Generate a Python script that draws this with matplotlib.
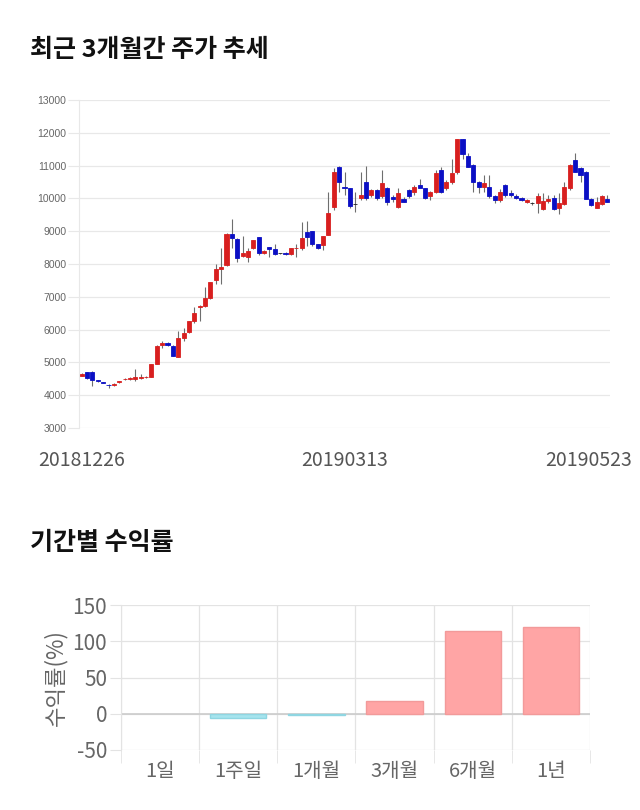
import numpy as np
import matplotlib
matplotlib.use("Agg")
import matplotlib.pyplot as plt
from matplotlib.transforms import ScaledTranslation

plt.rcParams['font.family'] = ['Noto Sans CJK KR', 'DejaVu Sans']
plt.rcParams['axes.unicode_minus'] = False

# daily candles, 20181226 ~ 20190523
opens = [4600, 4700, 4720, 4450, 4390, 4320, 4300, 4400, 4480, 4480,
         4490, 4520, 4540, 4540, 4960, 5520, 5590, 5510, 5160, 5740,
         5920, 6250, 6680, 6730, 6960, 7520, 7850, 7970, 8920, 8760,
         8230, 8210, 8490, 8820, 8330, 8510, 8470, 8330, 8330, 8300,
         8480, 8480, 8980, 9010, 8600, 8580, 8890, 9750, 10970, 10360,
         10310, 9830, 10000, 10510, 10100, 10250, 10060, 10310, 10050, 9750,
         9990, 10250, 10210, 10410, 10310, 10060, 10210, 10860, 10310, 10510,
         10800, 11810, 11300, 11020, 10510, 10360, 10360, 10060, 9950, 10410,
         10160, 10060, 10010, 9880, 9850, 9850, 9680, 9920, 10010, 9720,
         9830, 10310, 11170, 10920, 10820, 9980, 9720, 9820, 9980]
highs = [4680, 4720, 4730, 4470, 4400, 4340, 4360, 4440, 4520, 4540,
         4810, 4650, 4580, 4960, 5520, 5660, 5620, 5520, 5950, 6050,
         6270, 6700, 6750, 7300, 7460, 8000, 8500, 8930, 9380, 8780,
         8850, 8480, 8740, 8830, 8420, 8520, 8600, 8350, 8360, 8500,
         8600, 9290, 9310, 9020, 8620, 8860, 10200, 10920, 11000, 10800,
         10320, 10200, 10800, 10980, 10300, 10300, 10870, 10350, 10100, 10330,
         10050, 10280, 10400, 10600, 10330, 10220, 10880, 10960, 10550, 11200,
         11810, 11810, 11380, 11050, 10520, 10700, 10700, 10100, 10300, 10450,
         10250, 10120, 10050, 9980, 9880, 10150, 10150, 10100, 10100, 10150,
         10500, 11050, 11380, 10950, 10850, 10000, 10050, 10100, 10100]
lows = [4580, 4500, 4270, 4400, 4360, 4220, 4280, 4380, 4460, 4460,
        4440, 4480, 4520, 4540, 4960, 5450, 5500, 5180, 5150, 5640,
        5900, 6200, 6260, 6700, 6940, 7380, 7380, 7950, 8500, 8050,
        8200, 8050, 8450, 8280, 8300, 8200, 8280, 8300, 8280, 8280,
        8200, 8440, 8560, 8560, 8460, 8440, 8880, 9650, 10200, 10100,
        9700, 9600, 9950, 9950, 10050, 9950, 10000, 9800, 9900, 9700,
        9880, 10000, 10100, 10350, 9980, 9940, 10150, 10150, 10250, 10450,
        10750, 11200, 10950, 10200, 10150, 10200, 10000, 9860, 9900, 10050,
        10050, 9980, 9920, 9850, 9800, 9550, 9650, 9850, 9650, 9530,
        9800, 10250, 10800, 10500, 9980, 9780, 9700, 9800, 9900]
closes = [4650, 4530, 4470, 4420, 4370, 4310, 4340, 4420, 4500, 4530,
          4550, 4550, 4560, 4960, 5510, 5590, 5520, 5200, 5740, 5890,
          6250, 6500, 6720, 6960, 7450, 7850, 7920, 8910, 8790, 8180,
          8330, 8410, 8720, 8330, 8410, 8470, 8300, 8330, 8300, 8480,
          8490, 8790, 8810, 8600, 8480, 8840, 9550, 10800, 10510, 10310,
          9770, 9830, 10110, 10000, 10250, 10000, 10460, 9880, 9990, 10160,
          9900, 10060, 10360, 10330, 10000, 10210, 10770, 10210, 10510, 10770,
          11810, 11360, 10970, 10510, 10360, 10460, 10060, 9950, 10210, 10110,
          10110, 10000, 9950, 9950, 9850, 10060, 9920, 9980, 9680, 9850,
          10360, 11020, 10820, 10720, 9980, 9800, 9900, 10060, 9900]
date_labels = ['20181226', '20190313', '20190523']
date_pos = [0, 49, 98]

# returns by period
periods = ['1일', '1주일', '1개월', '3개월', '6개월', '1년']
returns = [0, -5.5, -1.5, 17.5, 113.5, 119]

fig = plt.figure(figsize=(6.4, 8.1), dpi=100)

fig.text(30 / 640, 1 - 50 / 810, '최근 3개월간 주가 추세', fontsize=18, fontweight='bold',
         color='#111111', va='center', ha='left')
fig.text(30 / 640, 1 - 543 / 810, '기간별 수익률', fontsize=18, fontweight='bold',
         color='#111111', va='center', ha='left')

# candle chart
ax = fig.add_axes([79 / 640, 1 - 428 / 810, 531 / 640, 328 / 810])
x = np.arange(len(opens))
o = np.array(opens)
c = np.array(closes)
colors = np.where(c > o, '#d81f1f', np.where(c < o, '#0b0fc4', '#222222'))
ax.vlines(x, lows, highs, color='#6e6e6e', linewidth=0.8, zorder=2)
ax.bar(x, c - o, bottom=o, width=0.75, color=colors, edgecolor=colors,
       linewidth=0.6, zorder=3)

ax.set_xlim(-0.5, len(opens) - 0.5)
ax.set_ylim(3000, 13000)
ax.set_yticks(range(3000, 13001, 1000))
ax.grid(axis='y', color='#e8e8e8', linewidth=0.9)
ax.set_axisbelow(True)
for side in ['top', 'right', 'bottom']:
    ax.spines[side].set_visible(False)
ax.spines['left'].set_color('#e8e8e8')
ax.tick_params(axis='y', length=8, color='#e8e8e8', labelsize=7.5, labelcolor='#666666', pad=1)
for lab in ax.get_yticklabels():
    lab.set_family('Liberation Sans')
ax.set_xticks(date_pos)
ax.set_xticklabels(date_labels)
ax.tick_params(axis='x', length=0, labelsize=14, labelcolor='#555555', pad=16)
last = ax.get_xticklabels()[-1]
last.set_transform(last.get_transform() + ScaledTranslation(-0.19, 0, fig.dpi_scale_trans))

# returns bar chart
ax2 = fig.add_axes([121 / 640, 1 - 750 / 810, 469 / 640, 145 / 810])
r = np.array(returns)
bar_colors = np.where(r >= 0, '#ffa5a5', '#a6e4ee')
edge_colors = np.where(r > 0, '#f29a9a', np.where(r < 0, '#8fd6e2', 'none'))
ax2.bar(np.arange(len(periods)), r, width=0.72, color=bar_colors,
        edgecolor=edge_colors, linewidth=1, zorder=3)
ax2.set_xlim(-0.5, len(periods) - 0.5)
ax2.set_ylim(-50, 150)
ax2.set_yticks([-50, 0, 50, 100, 150])
ax2.set_xticks(np.arange(len(periods)))
ax2.set_xticklabels(periods)
ax2.set_xticks(np.arange(len(periods) + 1) - 0.5, minor=True)
ax2.grid(axis='y', color='#e3e3e3', linewidth=0.9)
ax2.grid(axis='x', which='minor', color='#e3e3e3', linewidth=0.9)
ax2.axhline(0, color='#cccccc', linewidth=1.2, zorder=2)
ax2.set_axisbelow(True)
for side in ['top', 'right', 'bottom']:
    ax2.spines[side].set_visible(False)
ax2.spines['left'].set_color('#e3e3e3')
ax2.tick_params(axis='x', which='major', length=0, labelsize=14.5, labelcolor='#666666', pad=8)
ax2.tick_params(axis='x', which='minor', length=9, color='#e3e3e3')
ax2.tick_params(axis='y', length=8, color='#e3e3e3', labelsize=15, labelcolor='#666666', pad=2)
ax2.set_ylabel('수익률(%)', fontsize=16, color='#666666', labelpad=4)

fig.savefig('out.png', dpi=100)
